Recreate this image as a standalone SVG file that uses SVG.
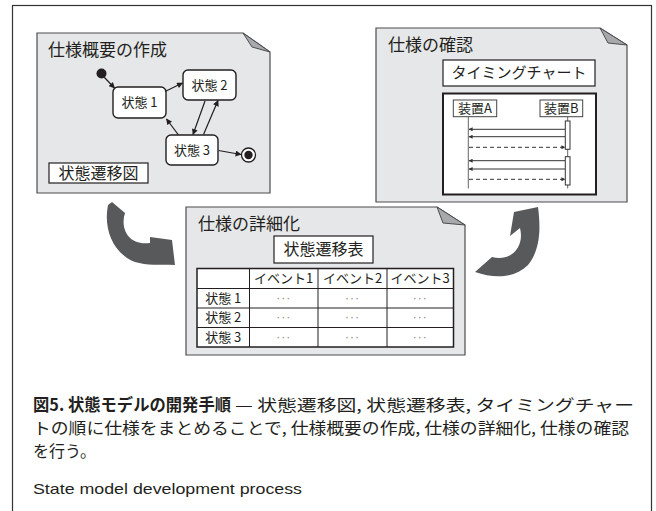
<svg xmlns="http://www.w3.org/2000/svg" width="656" height="511" viewBox="0 0 656 511">
<defs>
<style>
.jp{font-family:"Noto Sans CJK JP","Noto Sans",sans-serif;fill:#231f20}
.panel{fill:#e6e7e8;stroke:#4d4d4f;stroke-width:1.2}
.fold{fill:#a7a9ac;stroke:#4d4d4f;stroke-width:1;stroke-linejoin:round}
.box{fill:#fff;stroke:#231f20;stroke-width:1.2}
.st{fill:#fff;stroke:#231f20;stroke-width:1.4}
.ln{stroke:#231f20;stroke-width:1.2;fill:none}
.msg{stroke:#333;stroke-width:1;fill:none}
.dash{stroke:#333;stroke-width:1;fill:none;stroke-dasharray:4 3}
.big{fill:#58595b}
.dots{font-family:"Liberation Sans",sans-serif;font-size:12px;fill:#888;letter-spacing:1px}
.cap{font-family:"Noto Sans CJK JP",sans-serif;fill:#231f20}
</style>
<marker id="ah" viewBox="0 0 10 10" refX="9" refY="5" markerWidth="7" markerHeight="6" orient="auto" markerUnits="userSpaceOnUse">
<path d="M0,0 L10,5 L0,10 Z" fill="#231f20"/>
</marker>
<marker id="sh" viewBox="0 0 10 10" refX="9" refY="5" markerWidth="5" markerHeight="4" orient="auto" markerUnits="userSpaceOnUse">
<path d="M0,0 L10,5 L0,10 Z" fill="#333"/>
</marker>
</defs>
<rect x="0" y="0" width="656" height="511" fill="#fff"/>
<rect x="12.5" y="5.5" width="639" height="520" fill="none" stroke="#333" stroke-width="1.2"/>

<g id="panel-overview">
<path class="panel" d="M37,33 H243 L270,52 V193 H37 Z"/>
<path class="fold" d="M243,33 L252,47 L270,52 Z"/>
<text class="jp" x="48" y="56" font-size="17">仕様概要の作成</text>
<g id="initial"><circle cx="101.5" cy="73.5" r="5" fill="#231f20"/></g>
<g id="state1"><rect class="st" x="113" y="87" width="53" height="31" rx="5"/><text class="jp" x="139.5" y="107" font-size="13" text-anchor="middle">状態 1</text></g>
<g id="state2"><rect class="st" x="183" y="70" width="53" height="30" rx="5"/><text class="jp" x="209.5" y="89.5" font-size="13" text-anchor="middle">状態 2</text></g>
<g id="state3"><rect class="st" x="166" y="135" width="52" height="30" rx="5"/><text class="jp" x="192" y="154.5" font-size="13" text-anchor="middle">状態 3</text></g>
<g id="final"><circle cx="248.5" cy="155" r="7" fill="#fff" stroke="#231f20" stroke-width="1.3"/><circle cx="248.5" cy="155" r="4.2" fill="#231f20"/></g>
<g id="label-diagram"><rect class="box" x="49" y="163" width="99" height="20"/><text class="jp" x="98.5" y="178.5" font-size="16" text-anchor="middle">状態遷移図</text></g>
</g>

<g id="panel-confirm">
<path class="panel" d="M376,28 H600 L627,45 V202 H376 Z"/>
<path class="fold" d="M600,28 L608,43 L627,45 Z"/>
<text class="jp" x="388" y="50.5" font-size="17">仕様の確認</text>
<g id="label-timing"><rect class="box" x="443" y="60" width="152" height="26"/><text class="jp" x="519" y="78" font-size="15" text-anchor="middle">タイミングチャート</text></g>
<g id="sequence">
<rect x="443" y="93.5" width="153" height="101" fill="#fff" stroke="#231f20" stroke-width="2"/>
<line x1="468.3" y1="116.7" x2="468.3" y2="188.5" stroke="#666" stroke-width="1"/>
<line x1="567.7" y1="116.7" x2="567.7" y2="188.5" stroke="#666" stroke-width="1"/>
<g id="deviceA"><rect x="453.3" y="100" width="43.4" height="16.7" fill="#fff" stroke="#444" stroke-width="1"/><text class="jp" x="475" y="113" font-size="13" text-anchor="middle">装置A</text></g>
<g id="deviceB"><rect x="540" y="100" width="42.7" height="16.7" fill="#fff" stroke="#444" stroke-width="1"/><text class="jp" x="561.3" y="113" font-size="13" text-anchor="middle">装置B</text></g>
<rect x="565.3" y="121" width="4.7" height="28.3" fill="#fff" stroke="#333" stroke-width="1"/>
<rect x="565.3" y="156.7" width="4.7" height="28.3" fill="#fff" stroke="#333" stroke-width="1"/>
<line class="msg" x1="565" y1="129.3" x2="469" y2="129.3" marker-end="url(#sh)"/>
<line class="msg" x1="565" y1="136.7" x2="469" y2="136.7" marker-end="url(#sh)"/>
<line class="dash" x1="469" y1="147.3" x2="565" y2="147.3" marker-end="url(#sh)"/>
<line class="msg" x1="565" y1="160.7" x2="469" y2="160.7" marker-end="url(#sh)"/>
<line class="msg" x1="565" y1="169" x2="469" y2="169" marker-end="url(#sh)"/>
<line class="dash" x1="469" y1="179.3" x2="565" y2="179.3" marker-end="url(#sh)"/>
</g>
</g>

<g id="panel-detail">
<path class="panel" d="M186,207 H437 L465,225 V355 H186 Z"/>
<path class="fold" d="M437,207 L443,223 L465,225 Z"/>
<text class="jp" x="198" y="230" font-size="17">仕様の詳細化</text>
<g id="label-table"><rect class="box" x="274" y="236" width="99" height="27"/><text class="jp" x="323.5" y="255" font-size="16" text-anchor="middle">状態遷移表</text></g>
<g id="table">
<rect x="197" y="268.5" width="256.5" height="78.5" fill="#fff" stroke="#231f20" stroke-width="1.5"/>
<g stroke="#231f20" stroke-width="1">
<line x1="249.5" y1="268.5" x2="249.5" y2="347"/>
<line x1="318" y1="268.5" x2="318" y2="347"/>
<line x1="387" y1="268.5" x2="387" y2="347"/>
<line x1="197" y1="288.5" x2="453.5" y2="288.5"/>
<line x1="197" y1="308" x2="453.5" y2="308"/>
<line x1="197" y1="327.5" x2="453.5" y2="327.5"/>
</g>
<g class="jp" font-size="13" text-anchor="middle">
<text x="283.7" y="283">イベント1</text>
<text x="352.5" y="283">イベント2</text>
<text x="420.2" y="283">イベント3</text>
<text x="223.2" y="302.5">状態 1</text>
<text x="223.2" y="322">状態 2</text>
<text x="223.2" y="341.5">状態 3</text>
</g>
<g class="dots" text-anchor="middle">
<text x="283.7" y="301.5">···</text><text x="352.5" y="301.5">···</text><text x="420.2" y="301.5">···</text>
<text x="283.7" y="321">···</text><text x="352.5" y="321">···</text><text x="420.2" y="321">···</text>
<text x="283.7" y="340.5">···</text><text x="352.5" y="340.5">···</text><text x="420.2" y="340.5">···</text>
</g>
</g>
</g>

<g id="connectors">
<line class="ln" x1="104" y1="77" x2="114.5" y2="88" marker-end="url(#ah)"/>
<line class="ln" x1="165" y1="91.5" x2="182.5" y2="83" marker-end="url(#ah)"/>
<line class="ln" x1="178.5" y1="135" x2="166.5" y2="119" marker-end="url(#ah)"/>
<line class="ln" x1="205" y1="101" x2="193" y2="134.5" marker-end="url(#ah)"/>
<line class="ln" x1="203.5" y1="134.5" x2="218" y2="100.5" marker-end="url(#ah)"/>
<line class="ln" x1="218.5" y1="150.5" x2="241" y2="154.5" marker-end="url(#ah)"/>
<path class="big" d="M112,202 L125,213 C120,228 128,246 150,243 L150,237 L172,240 L175,265 C160,264 140,267 127,258 C110,246 104,225 108,205 Z"/>
<path class="big" d="M475,272 L492,257 C510,262 525,248 520,228 L510,236 L514,212 L538,207 C541,230 540,250 528,265 C515,278 495,279 475,272 Z"/>
</g>

<g id="caption">
<text class="cap" x="33" y="411" font-size="16.5" font-weight="bold" textLength="198" lengthAdjust="spacingAndGlyphs">図5. 状態モデルの開発手順</text>
<text class="cap" x="235" y="411" font-size="16" textLength="399" lengthAdjust="spacingAndGlyphs">— 状態遷移図, 状態遷移表, タイミングチャー</text>
<text class="cap" x="33" y="434" font-size="16" textLength="596" lengthAdjust="spacingAndGlyphs">トの順に仕様をまとめることで, 仕様概要の作成, 仕様の詳細化, 仕様の確認</text>
<text class="cap" x="33" y="457" font-size="16">を行う。</text>
<text x="33" y="494" font-family="'Liberation Sans',Arial,sans-serif" font-size="15" fill="#231f20" textLength="269" lengthAdjust="spacingAndGlyphs">State model development process</text>
</g>
</svg>
